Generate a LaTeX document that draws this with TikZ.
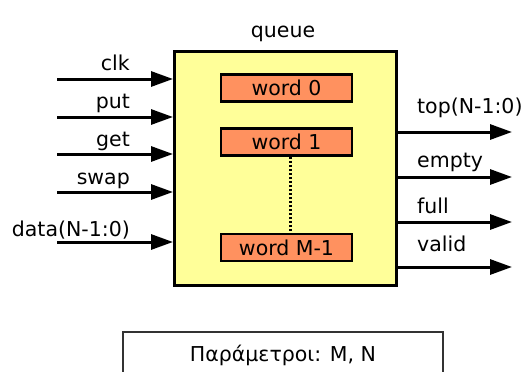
\documentclass[tikz,border=0pt]{standalone}
\usepackage{fontspec}
\setmainfont{DejaVu Sans}
\usetikzlibrary{arrows.meta,positioning}
\definecolor{qyellow}{RGB}{255,255,153}
\definecolor{qorange}{RGB}{255,145,95}

\begin{document}
\begin{tikzpicture}[x=1pt,y=-1pt,>={Triangle[length=22pt,width=15pt]},
	font=\fontsize{20.5}{24}\selectfont,
	block/.style={draw, line width=3pt, fill=qyellow, minimum width=222pt, minimum height=234pt, inner sep=0pt},
	word/.style={draw, line width=2.5pt, fill=qorange, minimum width=131pt, minimum height=27pt, inner sep=0pt},
	sig/.style={->, line width=3pt},
	lbl/.style={inner sep=0pt}]
\useasboundingbox (0,0) rectangle (528,372);

% the queue block and its words
\node[block] (queue) at (285.5,168.5) {};
\node[lbl, anchor=base] (title) at (283,37) {queue};
\node[word] (w0) at (286.5,88) {word 0};
\node[word] (w1) at (286.5,142) {word 1};
\node[word] (wM) at (286.5,247.5) {word M-1};
\draw[line width=2.5pt, dash pattern=on 2.5pt off 1.5pt] ([xshift=4pt]w1.south) -- ([xshift=4pt]wM.north);

% inputs
\coordinate (clk) at (57,79);
\coordinate (put) at (57,117);
\coordinate (get) at (57,154);
\coordinate (swap) at (57,192);
\coordinate (data) at (57,242);
\foreach \s in {clk,put,get,swap,data}
	\draw[sig] (\s) -- (\s -| queue.west);
\node[lbl, anchor=base east] (lclk) at (130,70) {clk};
\node[lbl, anchor=base east] (lput) at (130,108) {put};
\node[lbl, anchor=base east] (lget) at (130,146) {get};
\node[lbl, anchor=base east] (lswap) at (130,184) {swap};
\node[lbl, anchor=base east] (ldata) at (130,236) {data(N-1:0)};

% outputs
\coordinate (top) at (512,132);
\coordinate (empty) at (512,177);
\coordinate (full) at (512,222);
\coordinate (valid) at (512,267);
\foreach \s in {top,empty,full,valid}
	\draw[sig] (\s -| queue.east) -- (\s);
\node[lbl, anchor=base west] (ltop) at (417,113) {top(N-1:0)};
\node[lbl, anchor=base west] (lempty) at (417,167) {empty};
\node[lbl, anchor=base west] (lfull) at (417,213) {full};
\node[lbl, anchor=base west] (lvalid) at (417,251) {valid};

% parameters
\draw[line width=2pt, black!80] (123,390) -- (123,332) -- (443,332) -- (443,390);
\node[lbl, anchor=base] (params) at (283,361) {Παράμετροι: Μ, Ν};
\end{tikzpicture}
\end{document}
